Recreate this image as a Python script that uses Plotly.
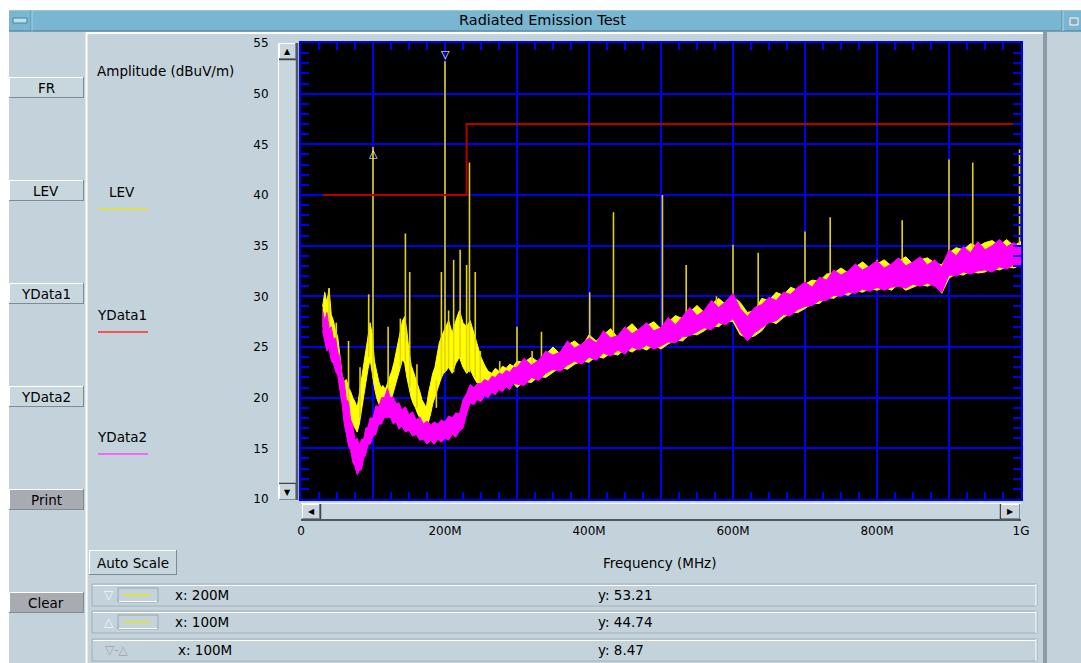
import plotly.graph_objects as go

# ---------------- data ----------------
# YData2 (magenta) noise band: frequency (MHz), upper and lower envelope (dBuV/m)
mag_freq = [30, 33, 36, 39, 42, 45, 48, 51, 54, 57, 60, 63, 66, 69, 72, 75, 78, 81, 84, 87,
            90, 93, 96, 100, 104, 108, 112, 116, 120, 124, 128, 132, 136, 140, 145, 150, 155, 160, 165, 170,
            175, 180, 185, 190, 195, 200, 205, 210, 215, 220, 225, 230, 235, 240, 245, 250, 255, 260, 265, 270,
            275, 280, 285, 290, 295, 300, 310, 320, 330, 340, 350, 360, 370, 380, 390, 400, 410, 420, 430, 440,
            450, 460, 470, 480, 490, 500, 510, 520, 530, 540, 550, 560, 570, 580, 590, 600, 610, 620, 630, 640,
            650, 660, 670, 680, 690, 700, 710, 720, 730, 740, 750, 760, 770, 780, 790, 800, 810, 820, 830, 840,
            850, 860, 870, 880, 890, 900, 910, 920, 930, 940, 950, 960, 970, 980, 990, 1000]
mag_hi = [28.6, 27.6, 28.4, 26.8, 27.0, 25.8, 25.9, 24.5, 24.0, 22.2, 21.6, 19.8, 19.6, 17.8, 17.3, 15.8, 16.0, 15.3, 15.9, 15.9,
          17.0, 17.1, 18.0, 18.0, 19.2, 19.1, 20.0, 20.0, 20.9, 20.0, 20.1, 19.4, 19.5, 18.8, 19.1, 18.3, 18.6, 17.8, 18.1, 17.4,
          17.7, 17.3, 17.6, 17.4, 17.8, 17.6, 18.2, 18.0, 18.5, 18.4, 19.8, 20.4, 21.3, 21.0, 21.4, 21.4, 21.8, 21.6, 22.1, 22.0,
          22.4, 22.3, 22.7, 22.5, 23.0, 23.0, 23.9, 23.2, 23.7, 24.6, 24.2, 24.5, 25.6, 24.9, 25.3, 25.9, 25.4, 26.6, 25.9, 26.1,
          27.0, 26.3, 26.8, 27.4, 26.6, 26.9, 27.9, 27.2, 28.0, 28.9, 28.1, 28.6, 29.6, 28.9, 29.5, 30.3, 28.8, 28.0, 28.9, 29.2,
          29.9, 29.6, 30.4, 30.2, 30.9, 31.4, 30.9, 31.9, 31.6, 32.6, 32.1, 32.5, 33.2, 32.6, 33.0, 33.5, 32.8, 33.2, 33.8, 33.0,
          33.4, 33.9, 33.1, 33.6, 32.9, 34.6, 34.0, 34.9, 34.3, 35.4, 34.6, 35.0, 35.6, 34.9, 35.3, 34.8]
mag_lo = [26.6, 25.8, 24.6, 24.9, 23.6, 23.4, 22.6, 22.2, 20.6, 19.4, 17.4, 16.4, 15.2, 14.8, 13.6, 13.2, 12.4, 12.8, 12.9, 14.0,
          14.4, 15.4, 15.4, 16.2, 16.4, 17.4, 17.4, 18.1, 18.0, 18.1, 17.4, 17.6, 16.9, 17.2, 16.6, 16.8, 16.2, 16.4, 15.8, 15.9,
          15.4, 15.8, 15.4, 15.9, 15.6, 16.0, 15.8, 16.4, 16.1, 16.7, 17.0, 18.4, 19.5, 19.3, 19.8, 19.6, 20.2, 20.0, 20.5, 20.3,
          20.8, 20.6, 21.1, 20.8, 21.4, 21.3, 21.2, 22.0, 21.7, 22.4, 22.8, 22.6, 23.2, 23.6, 23.3, 24.0, 23.7, 24.4, 24.1, 24.7,
          24.3, 25.0, 24.7, 25.2, 24.8, 25.1, 25.5, 25.4, 26.0, 26.1, 26.5, 26.9, 26.7, 27.4, 27.2, 27.8, 26.5, 25.6, 26.4, 26.9,
          27.4, 27.6, 28.2, 28.1, 28.7, 29.0, 29.1, 29.6, 29.6, 30.1, 30.0, 30.4, 30.3, 30.7, 30.5, 30.9, 30.6, 30.9, 31.0, 30.8,
          31.2, 31.0, 31.3, 31.0, 30.4, 32.1, 32.0, 32.4, 32.2, 32.5, 32.6, 32.4, 32.9, 32.7, 33.1, 32.9]

# LEV (yellow) noise band
lev_freq = [30, 33, 36, 39, 42, 45, 48, 51, 54, 57, 60, 63, 66, 69, 72, 75, 78, 81, 84, 87,
            90, 93, 96, 99, 102, 105, 108, 111, 114, 117, 120, 123, 126, 129, 132, 135, 138, 141, 144, 147,
            150, 153, 156, 159, 162, 165, 168, 171, 174, 177, 180, 183, 186, 189, 192, 195, 198, 201, 205, 210,
            215, 220, 225, 230, 235, 240, 245, 250, 255, 260, 265, 270, 275, 280, 285, 290, 295, 300, 310, 320,
            330, 340, 350, 360, 370, 380, 390, 400, 410, 420, 430, 440, 450, 460, 470, 480, 490, 500, 510, 520,
            530, 540, 550, 560, 570, 580, 590, 600, 610, 620, 630, 640, 650, 660, 670, 680, 690, 700, 710, 720,
            730, 740, 750, 760, 770, 780, 790, 800, 810, 820, 830, 840, 850, 860, 870, 880, 890, 900, 910, 920,
            930, 940, 950, 960, 970, 980, 990, 1000]
lev_hi = [29.0, 30.4, 29.4, 30.8, 28.2, 27.6, 26.6, 26.0, 24.2, 22.2, 21.6, 21.8, 21.0, 20.6, 20.0, 19.6, 19.0, 20.4, 22.0, 23.4,
          25.0, 26.4, 27.4, 26.2, 23.6, 22.6, 21.6, 21.0, 21.2, 20.8, 21.4, 21.8, 22.6, 23.4, 24.4, 25.4, 26.4, 27.6, 28.0, 26.6,
          24.6, 23.2, 22.6, 22.0, 21.4, 20.6, 19.8, 19.4, 19.0, 20.4, 21.4, 22.4, 23.0, 24.2, 25.4, 26.0, 26.6, 27.0, 27.6, 26.4,
          27.6, 28.6, 27.4, 27.0, 27.6, 26.4, 25.0, 24.0, 23.2, 22.6, 22.4, 22.9, 22.6, 23.1, 22.9, 23.3, 23.1, 23.6, 23.5, 24.0,
          23.5, 24.3, 25.0, 24.3, 25.2, 25.6, 25.0, 26.2, 25.6, 26.2, 26.8, 25.9, 26.7, 27.3, 26.5, 27.1, 27.5, 26.8, 27.5, 28.1,
          27.8, 28.5, 29.1, 28.4, 29.2, 29.8, 29.2, 30.0, 29.4, 28.4, 28.6, 29.8, 29.6, 30.4, 30.1, 30.9, 30.6, 31.2, 31.6, 31.5,
          32.2, 32.3, 32.8, 32.3, 32.9, 33.4, 32.8, 33.2, 33.6, 33.0, 33.5, 33.9, 33.2, 33.6, 33.8, 33.3, 33.1, 34.3, 34.8, 34.6,
          35.2, 34.9, 35.3, 35.5, 35.0, 35.6, 35.0, 35.4]
lev_lo = [27.0, 26.8, 26.4, 25.8, 25.0, 24.0, 23.4, 22.6, 21.2, 19.6, 19.0, 19.2, 18.4, 18.0, 17.4, 17.0, 16.6, 17.4, 18.8, 20.4,
          21.4, 22.8, 23.8, 22.6, 21.0, 20.0, 19.4, 19.0, 19.0, 18.6, 19.0, 19.2, 20.0, 20.8, 21.4, 22.2, 23.0, 23.8, 23.4, 22.0,
          21.0, 20.0, 19.4, 19.0, 18.4, 18.0, 17.4, 17.0, 16.8, 17.6, 18.4, 19.4, 20.0, 20.8, 21.4, 22.0, 22.4, 22.6, 23.0, 22.4,
          23.4, 24.0, 23.0, 22.4, 22.8, 22.0, 21.4, 21.0, 20.6, 20.4, 20.6, 20.8, 20.9, 21.0, 21.1, 21.2, 21.4, 21.0, 21.6, 21.5,
          22.1, 22.0, 22.5, 23.0, 22.8, 23.3, 23.6, 23.5, 24.1, 23.9, 24.4, 24.2, 24.8, 24.5, 25.0, 24.7, 25.2, 24.8, 25.3, 25.7,
          25.6, 26.3, 26.2, 26.6, 27.1, 27.0, 27.6, 27.5, 26.2, 25.9, 26.1, 26.6, 27.6, 27.3, 27.9, 28.4, 28.4, 28.8, 29.3, 29.3,
          29.9, 29.8, 30.3, 30.1, 30.6, 30.4, 30.8, 30.6, 30.9, 30.6, 31.2, 30.6, 30.9, 31.2, 31.0, 31.3, 30.3, 31.8, 32.2, 32.1,
          32.5, 32.3, 32.4, 32.8, 32.6, 32.9, 32.8, 33.1]

# LEV narrow-band emissions: frequency, base of the line, top of the line
spike_freq = [39, 49, 66, 82, 94, 100, 121, 138, 145, 151, 161, 188, 195, 200, 205, 212, 221, 230, 234, 242,
              249, 276, 300, 321, 334, 401, 434, 502, 535, 577, 600, 635, 700, 735, 800, 835, 900, 933, 998]
spike_base = [27.0, 24.0, 19.0, 18.0, 24.0, 22.0, 19.0, 23.0, 23.5, 21.0, 19.0, 19.0, 22.0, 22.5, 23.0, 22.5, 24.0, 22.4, 22.5, 22.0,
              21.0, 21.0, 21.5, 22.0, 22.5, 24.0, 24.5, 25.3, 25.9, 27.0, 27.8, 26.4, 29.0, 29.8, 30.7, 31.0, 32.0, 32.4, 33.0]
spike_top = [30.8, 27.4, 25.6, 23.0, 30.2, 44.74, 27.0, 27.8, 36.2, 32.4, 23.3, 21.7, 32.4, 53.21, 28.6, 33.6, 34.6, 33.1, 43.2, 32.4,
             24.6, 23.6, 27.0, 24.6, 26.5, 30.4, 38.3, 40.0, 33.1, 30.0, 35.1, 34.3, 36.4, 37.8, 33.6, 37.5, 43.5, 43.2, 44.5]

# YData1 limit line
limit_freq = [30, 230, 230, 1000]
limit_val = [40, 40, 47, 47]

# markers
marker_sym = ['\u25BD', '\u25B3']
marker_freq = [200, 100]
marker_val = [53.21, 44.74]

# axis ticks
x_tick_vals = [0, 100, 200, 300, 400, 500, 600, 700, 800, 900, 1000]
x_tick_text = ['0', '', '200M', '', '400M', '', '600M', '', '800M', '', '1G']
y_tick_vals = [10, 15, 20, 25, 30, 35, 40, 45, 50, 55]
y_tick_text = ['10', '15', '20', '25', '30', '35', '40', '45', '50', '55']

# read-out rows
readout_sym = ['\u25BD', '\u25B3', '\u25BD-\u25B3']
readout_x = ['x: 200M', 'x: 100M', 'x: 100M']
readout_y = ['y: 53.21', 'y: 44.74', 'y: 8.47']

buttons = ['FR', 'LEV', 'YData1', 'YData2', 'Print', 'Clear']
legend_names = ['LEV', 'YData1', 'YData2']

# ---------------- layout geometry ----------------
W, H = 1081, 663
ML, MR, MT, MB = 301, 60, 43, 164
PW = W - ML - MR
PH = H - MT - MB
FONT = 'DejaVu Sans, Verdana, sans-serif'
FS = 13.5
BG = '#c4d3db'
BLUE = '#0000f0'
YEL = '#ffff00'
MAG = '#ff00ff'


def px(x):
    return (x - ML) / PW


def py(y):
    return 1 - (y - MT) / PH


shapes = []
annotations = []


def rect(x0, y0, x1, y1, fill, line=None, lw=1):
    shapes.append(dict(type='rect', xref='paper', yref='paper', x0=px(x0), x1=px(x1),
                       y0=py(y1), y1=py(y0), fillcolor=fill,
                       line=dict(color=line if line else 'rgba(0,0,0,0)', width=lw if line else 0),
                       layer='above'))


def hl(x0, x1, y, color, w=1):
    shapes.append(dict(type='line', xref='paper', yref='paper', x0=px(x0), x1=px(x1),
                       y0=py(y), y1=py(y), line=dict(color=color, width=w), layer='above'))


def vl(x, y0, y1, color, w=1):
    shapes.append(dict(type='line', xref='paper', yref='paper', x0=px(x), x1=px(x),
                       y0=py(y0), y1=py(y1), line=dict(color=color, width=w), layer='above'))


def txt(x, y, s, anchor='left', size=FS, color='#000000'):
    annotations.append(dict(xref='paper', yref='paper', x=px(x), y=py(y), text=s, showarrow=False,
                            xanchor=anchor, yanchor='middle',
                            font=dict(family=FONT, size=size, color=color)))


def raised(x0, y0, x1, y1, fill):
    rect(x0, y0, x1, y1, fill)
    hl(x0, x1, y0 + 0.5, '#ffffff')
    vl(x0 + 0.5, y0, y1, '#ffffff')
    hl(x0, x1, y1 - 0.5, '#7d8c94')
    vl(x1 - 0.5, y0, y1, '#7d8c94')


# window chrome
rect(0, 0, W, 10, '#ffffff')
rect(0, 10, 9, H, '#ffffff')
rect(9, 10, W, 31, '#79b6d2')
hl(9, W, 10.5, '#9fc4d6')
hl(9, W, 31, '#5d8ea5', 1.5)
vl(31, 10, 31, '#5d8ea5')
vl(32, 10, 31, '#a8d4e6')
vl(1062, 10, 31, '#5d8ea5')
vl(1063, 10, 31, '#a8d4e6')
rect(13, 18, 27, 23, '#b8e0ee', '#4f8098')
rect(1070, 18, 1078, 25, '#8aa8b8', '#ffffff')
txt(542, 20, 'Radiated Emission Test', 'center', 14.5)

# main panel borders
vl(86.5, 32, H, '#ffffff', 2)
hl(86, 1045, 33, '#ffffff', 2)
vl(1045, 32, H, '#8c9ca4', 4)

# left buttons
for i, name in enumerate(buttons):
    top = 77 + 103 * i
    face = '#a9abb3' if name in ('Print', 'Clear') else '#c8d6de'
    raised(9, top, 84, top + 21, face)
    txt(46, top + 10.5, name, 'center')

# y axis title and legend
txt(95, 71, 'Amplitude (dBuV/m)', 'left')
leg_y = [192, 315, 437]
leg_x = [107, 95, 95]
leg_col = ['#e6e62a', '#ff2a2a', '#ff44ff']
for name, yy, xx, col in zip(legend_names, leg_y, leg_x, leg_col):
    txt(xx, yy, name, 'left')
    hl(98, 148, yy + 17, col, 1.5)

# vertical scroll bar
rect(278, 43, 298, 500, '#c9d6dd')
vl(278.5, 43, 500, '#ffffff')
vl(297, 43, 500, '#4e585e', 2.5)
raised(279, 43, 296, 59, '#c9d6dd')
hl(279, 296, 59.5, '#3c464c', 1.5)
txt(287.5, 51, '\u25B2', 'center', 8)
raised(279, 484, 296, 500, '#c9d6dd')
hl(279, 296, 483.5, '#3c464c', 1.5)
txt(287.5, 492, '\u25BC', 'center', 8)

# horizontal scroll bar
rect(301, 503, 1021, 521, '#c9d6dd')
hl(301, 1021, 503.5, '#ffffff')
hl(301, 1021, 520, '#4e585e', 2)
raised(302, 504, 320, 519, '#c9d6dd')
vl(320.5, 504, 519, '#3c464c', 1.5)
txt(311, 511.5, '\u25C0', 'center', 8)
raised(1001, 504, 1020, 519, '#c9d6dd')
vl(1000.5, 504, 519, '#3c464c', 1.5)
txt(1010.5, 511.5, '\u25B6', 'center', 8)

# x title and auto scale button
txt(659, 563, 'Frequency (MHz)', 'center')
raised(89, 550, 177, 575, '#c8d6de')
txt(133, 562.5, 'Auto Scale', 'center')

# read-out rows
row_top = [584, 611, 639]
for i in range(3):
    t = row_top[i]
    rect(92, t, 1037, t + 22, BG, '#a3afb6')
    hl(93, 1036, t + 1.5, '#ffffff')
    vl(1036, t, t + 22, '#ffffff')
    if i < 2:
        txt(109, t + 11, readout_sym[i], 'center', 12, '#f4f7f8')
        rect(118, t + 4, 158, t + 18, BG, '#9aa6ad')
        hl(119, 157, t + 17.5, '#ffffff')
        hl(123, 150, t + 11, '#e8e81a', 1.5)
        txt(173, t + 11, readout_x[i], 'left')
    else:
        txt(103, t + 11, readout_sym[i], 'left', 12, '#9aa2a8')
        txt(176, t + 11, readout_x[i], 'left')
    txt(596, t + 11, readout_y[i], 'left')

# ---------------- traces ----------------
fig = go.Figure()

lev_poly_x = lev_freq + lev_freq[::-1]
lev_poly_y = lev_hi + lev_lo[::-1]
fig.add_trace(go.Scatter(x=lev_poly_x, y=lev_poly_y, fill='toself', fillcolor=YEL, mode='lines',
                         line=dict(color=YEL, width=1), hoverinfo='skip', showlegend=False))

sx, sy = [], []
for f, b, t in zip(spike_freq, spike_base, spike_top):
    sx += [f, f, None]
    sy += [b, t, None]
fig.add_trace(go.Scatter(x=sx, y=sy, mode='lines', line=dict(color='#e4d400', width=1.6),
                         hoverinfo='skip', showlegend=False))

mag_poly_x = mag_freq + mag_freq[::-1]
mag_poly_y = mag_hi + mag_lo[::-1]
fig.add_trace(go.Scatter(x=mag_poly_x, y=mag_poly_y, fill='toself', fillcolor=MAG, mode='lines',
                         line=dict(color=MAG, width=1), hoverinfo='skip', showlegend=False))

fig.add_trace(go.Scatter(x=limit_freq, y=limit_val, mode='lines', line=dict(color='#b40000', width=2),
                         hoverinfo='skip', showlegend=False))

for s, f, v in zip(marker_sym, marker_freq, marker_val):
    annotations.append(dict(xref='x', yref='y', x=f, y=v, text=s, showarrow=False,
                            xanchor='center', yanchor='bottom' if s == '\u25BD' else 'top',
                            yshift=-2 if s == '\u25BD' else 2,
                            font=dict(family='DejaVu Sans', size=11, color='#ffffff')))

axis_common = dict(showgrid=True, gridcolor=BLUE, gridwidth=1.5, showline=True, linecolor=BLUE,
                   linewidth=2, mirror='allticks', ticks='inside', tickcolor=BLUE, tickwidth=1.5,
                   zeroline=False, tickfont=dict(family=FONT, size=12, color='#000000'),
                   tickmode='array', fixedrange=True)

fig.update_layout(
    width=W, height=H,
    margin=dict(l=ML, r=MR, t=MT, b=MB, pad=0),
    paper_bgcolor=BG, plot_bgcolor='#000000',
    xaxis=dict(range=[0, 1000], tickvals=x_tick_vals, ticktext=x_tick_text, ticklen=7,
               ticklabelstandoff=20,
               minor=dict(dtick=25, tick0=0, ticks='inside', ticklen=7, tickcolor=BLUE, tickwidth=1.5,
                          showgrid=False),
               **axis_common),
    yaxis=dict(range=[10, 55], tickvals=y_tick_vals, ticktext=y_tick_text, ticklen=8,
               ticklabelstandoff=28,
               minor=dict(dtick=1, tick0=0, ticks='inside', ticklen=8, tickcolor=BLUE, tickwidth=1.5,
                          showgrid=False),
               **axis_common),
    shapes=shapes, annotations=annotations, showlegend=False,
)

fig.write_html('out.html', config={'displayModeBar': False},
               post_script="document.body.style.margin='0';document.body.style.padding='0';"
                           "document.body.style.overflow='hidden';")
